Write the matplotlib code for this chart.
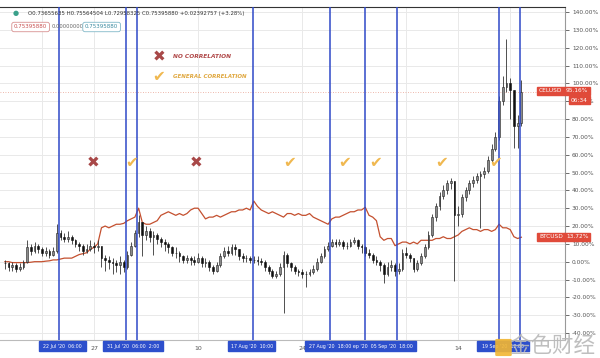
import matplotlib
matplotlib.use('Agg')
from matplotlib import pyplot as plt
from matplotlib.patches import FancyBboxPatch
import matplotlib.dates as mdates
import pandas as pd
import numpy as np

# 12h bars, CELUSD % change (close / high / low) and BTCUSD % change
start = '2020-07-15 00:00'
cel_close = [-1, -3, -2, -4, -3, 0, 8, 6, 9, 7, 5, 6, 4, 6, 16, 14, 13, 14, 12, 10,
             9, 6, 7, 9, 8, 9, 2, 1, 0, -1, -2, 0, -3, 4, 9, 16, 22, 15, 17, 14,
             15, 13, 11, 10, 8, 5, 5, 3, 1, 2, 1, 0, 2, -1, 0, -3, -5, -2, 3, 6,
             5, 8, 7, 3, 2, 2, 1, 1, 0.5, 0, -3, -5, -8, -7, -3, 4, -1, -3, -5, -6,
             -7, -7, -6, -4, 0, 3, 7, 9, 11, 10, 11, 9, 9, 11, 12, 9, 8, 5, 4, 1,
             0, -2, -7, -3, -2, -5, -4, 5, 4, 2, -4, -1, 3, 8, 15, 25, 31, 37, 40, 44,
             45, 26, 27, 36, 40, 44, 46, 48, 49, 51, 57, 63, 70, 90, 98, 100, 96, 76, 78, 95.16]
cel_high = [1, 0, 0, -1, -1, 1, 12, 10, 11, 10, 8, 8, 7, 8, 21, 18, 16, 17, 15, 13,
            11, 10, 10, 12, 11, 12, 9, 4, 3, 2, 1, 3, 1, 6, 11, 18, 26, 22, 20, 19,
            17, 16, 14, 13, 11, 9, 8, 6, 4, 4, 3, 3, 5, 3, 2, 1, -2, 0, 5, 8,
            9, 10, 10, 7, 5, 4, 3, 3, 3, 2, 1, -2, -4, -5, -1, 6, 5, 0, -2, -4,
            -4, -5, -4, -2, 2, 5, 9, 11, 13, 13, 13, 12, 11, 13, 14, 13, 10, 9, 7, 5,
            3, 1, -1, 0, 1, -1, -1, 7, 8, 5, 2, 1, 5, 10, 17, 27, 33, 39, 43, 46,
            47, 45, 31, 38, 42, 46, 48, 50, 51, 53, 59, 66, 73, 93, 104, 125, 103, 96, 82, 102]
cel_low = [-4, -5, -5, -6, -5, -4, -1, 4, 5, 5, 3, 3, 2, 3, 5, 12, 11, 11, 10, 8,
           6, 4, 5, 6, 5, 6, -3, -5, -4, -7, -6, -7, -6, -4, 3, 8, 14, 3, 12, 11,
           4, 10, 8, 6, 5, 3, 2, 0, -1, -1, -2, -2, -1, -3, -3, -5, -7, -6, -3, 2,
           3, 4, 4, 1, 0, 0, -1, -1, -2, -2, -5, -7, -9, -9, -8, -29, -3, -5, -7, -8,
           -9, -14, -8, -7, -5, -1, 2, 6, 8, 8, 9, 7, 7, 8, 10, 7, 5, 3, 2, -1,
           -2, -5, -12, -8, -5, -8, -7, -5, 2, 0, -6, -5, -2, 2, 7, 14, 23, 29, 35, 38,
           41, -11, 20, 25, 34, 38, 42, 44, 19, 47, 50, 56, 62, 68, 88, 95, 80, 64, 64, 76]
btc = [0, 0, -0.5, -0.5, -0.5, -0.5, -0.5, -0.3, 0, 0, 0, 0.3, 0.5, 1, 1, 1.5, 2, 2, 2, 3,
       4, 4.5, 5, 7, 8, 10, 19, 20, 19, 20, 21, 21, 21.5, 23, 24, 25, 30, 22, 21, 21,
       22, 23, 26, 27, 28, 27, 26, 27, 26, 27, 29, 30, 30, 27, 24, 25, 25, 26, 25, 26,
       27, 28, 28, 29, 29, 30, 29, 34, 31, 29, 28, 27, 28, 27, 26, 25, 27, 27, 26, 27,
       26, 26, 27, 25, 24, 23, 22, 21, 24, 25, 25, 26, 27, 28, 28, 29, 29, 30.5, 26, 25,
       23, 14, 12, 13, 13, 9, 10, 11, 11, 10, 11, 10, 12, 12, 12, 12, 13, 13, 14, 13,
       13, 14, 15, 17, 18, 19, 18, 18, 17, 18, 18, 17, 18, 21, 19, 19, 18, 14, 13, 13.72]

event_dates = ['2020-07-22 06:00', '2020-07-31 06:00', '2020-08-01 19:00', '2020-08-17 10:00',
               '2020-08-27 18:00', '2020-09-01 12:00', '2020-09-05 18:00', '2020-09-19 12:00',
               '2020-09-22 09:00']
no_corr = ['2020-07-26 20:00', '2020-08-09 18:00']
gen_corr = ['2020-08-01 00:00', '2020-08-22 08:00', '2020-08-29 16:00', '2020-09-02 22:00',
            '2020-09-11 17:00', '2020-09-19 02:00']
marker_level = 55.4

date_labels = [("22 Jul '20  06:00", '2020-07-19 15:00', '2020-07-25 23:00'),
               ("31 Jul '20  06:00  2:00", '2020-07-28 06:00', '2020-08-05 06:00'),
               ("17 Aug '20  10:00", '2020-08-14 02:00', '2020-08-20 08:00'),
               ("27 Aug '20  18:00 ep '20  05 Sep '20  18:00", '2020-08-24 10:00', '2020-09-08 09:00'),
               ("19 Sep '20  12:00", '2020-09-16 12:00', '2020-09-23 12:00')]
grid_dates = ['2020-07-20', '2020-07-27', '2020-08-10', '2020-08-24', '2020-09-07', '2020-09-14', '2020-09-21']
tick_dates = ['2020-07-27', '2020-08-10', '2020-08-24', '2020-09-14']
tick_text = ['27', '10', '24', '14']

t = mdates.date2num(pd.date_range(start, periods=len(cel_close), freq='12h'))
c = np.array(cel_close)
o = np.concatenate([[-0.5], c[:-1]])
dn = lambda s: mdates.date2num(pd.Timestamp(s))

fig = plt.figure(figsize=(6, 3.58), dpi=100)
ax = fig.add_axes([0, 0.0503, 0.9417, 0.9301])
ax.set_xlim(dn('2020-07-14 08:24'), dn('2020-09-28 09:00'))
ax.set_ylim(-43.9, 142.8)

ax.set_yticks(np.arange(-40, 150, 10))
ax.set_yticklabels(['%.2f%%' % v for v in np.arange(-40, 150, 10)])
ax.yaxis.tick_right()
ax.tick_params(axis='y', labelsize=4.2, colors='#555555', length=3, width=0.6, pad=2)
ax.grid(axis='y', color='#e9e9e9', lw=0.7)
for g in grid_dates:
    ax.axvline(dn(g), color='#e9e9e9', lw=0.7, zorder=0)
ax.set_xticks([dn(d) for d in tick_dates])
ax.set_xticklabels(tick_text)
ax.tick_params(axis='x', labelsize=4.5, colors='#555555', length=0, pad=4)
ax.spines['left'].set_visible(False)
ax.spines['top'].set_color('#333333')
ax.spines['right'].set_color('#999999')
ax.spines['bottom'].set_color('#bbbbbb')

# candles
ax.vlines(t, cel_low, cel_high, color='#333333', lw=0.6, zorder=3)
up = c >= o
w = 0.24
ax.bar(t[up], (c - o)[up], bottom=o[up], width=w, color='#8a8a8a', edgecolor='#222222', lw=0.4, zorder=4)
ax.bar(t[~up], (c - o)[~up], bottom=o[~up], width=w, color='#111111', edgecolor='#111111', lw=0.4, zorder=4)

ax.plot(t, btc, color='#c4502f', lw=0.9, zorder=2)
ax.axhline(cel_close[-1], color='#e8a090', lw=0.6, ls=(0, (1, 2)), zorder=1)

for d in event_dates:
    ax.axvline(dn(d), color='#2f49c8', lw=1.1, zorder=5)

for d in no_corr:
    ax.text(dn(d), marker_level, '\u2716', color='#a84848', fontsize=11, ha='center', va='center', zorder=6)
for d in gen_corr:
    ax.text(dn(d), marker_level, '\u2714', color='#f0b850', fontsize=11, ha='center', va='center', zorder=6)

# legend
fig.text(159 / 600, 1 - 57 / 358, '\u2716', color='#a84848', fontsize=11, ha='center', va='center')
fig.text(173 / 600, 1 - 57 / 358, 'NO CORRELATION', color='#b04848', fontsize=4.2, style='italic',
         weight='bold', va='center')
fig.text(159 / 600, 1 - 77 / 358, '\u2714', color='#f0b850', fontsize=11, ha='center', va='center')
fig.text(173 / 600, 1 - 77 / 358, 'GENERAL CORRELATION', color='#e0a840', fontsize=4.0, style='italic',
         weight='bold', va='center')

# header
fig.text(16 / 600, 1 - 13 / 358, '\u25cf', color='#3aa08a', fontsize=5, ha='center', va='center')
fig.text(28 / 600, 1 - 13 / 358, 'O0.73655635 H0.75564504 L0.72958325 C0.75395880 +0.02392757 (+3.28%)',
         color='#333333', fontsize=3.9, va='center')
fig.text(14 / 600, 1 - 27 / 358, '0.75395880', color='#c85050', fontsize=4.0, va='center',
         bbox=dict(boxstyle='round,pad=0.4', fc='white', ec='#d89090', lw=0.6))
fig.text(52 / 600, 1 - 27 / 358, '0.00000000', color='#666666', fontsize=3.8, va='center')
fig.text(85 / 600, 1 - 27 / 358, '0.75395880', color='#3a8aa0', fontsize=4.0, va='center',
         bbox=dict(boxstyle='round,pad=0.4', fc='white', ec='#80b8c8', lw=0.6))

# price labels on the right
red = '#e04a3a'
def tag(y, txt, name=None, sub=None):
    fig.text(566 / 600, 1 - y / 358, txt, color='white', fontsize=4.2, va='center',
             bbox=dict(boxstyle='square,pad=0.3', fc=red, ec=red))
    if name:
        fig.text(539 / 600, 1 - y / 358, name, color='white', fontsize=4.2, va='center',
                 bbox=dict(boxstyle='square,pad=0.3', fc=red, ec=red))
    if sub:
        fig.text(571 / 600, 1 - (y + 9) / 358, sub, color='white', fontsize=4.2, va='center',
                 bbox=dict(boxstyle='square,pad=0.3', fc=red, ec=red))

tag(91, '95.16%', 'CELUSD', '06:34')
tag(237, '13.72%', 'BTCUSD')

# date boxes on the x axis
for txt, a, b in date_labels:
    x0, x1 = dn(a), dn(b)
    ax.axvspan(x0, x1, ymin=-0.034, ymax=-0.004, color='#2d4fcc', clip_on=False, zorder=7)
    ax.text((x0 + x1) / 2, -47.6, txt, color='white', fontsize=3.4, ha='center', va='center',
            zorder=8, clip_on=False)

# watermark
fig.patches.append(FancyBboxPatch((497 / 600, 3 / 358), 13 / 600, 15 / 358, boxstyle='round,pad=0.003',
                                  transform=fig.transFigure, fc='#f2b632', ec='none', alpha=0.9, zorder=9))
fig.text(0.92, 0.033, '金色财经', family=['Noto Sans CJK SC', 'DejaVu Sans'], fontsize=15.5,
         color='#b8b8b8', ha='center', va='center', alpha=0.9, zorder=9)

fig.savefig('out.png', dpi=100)
